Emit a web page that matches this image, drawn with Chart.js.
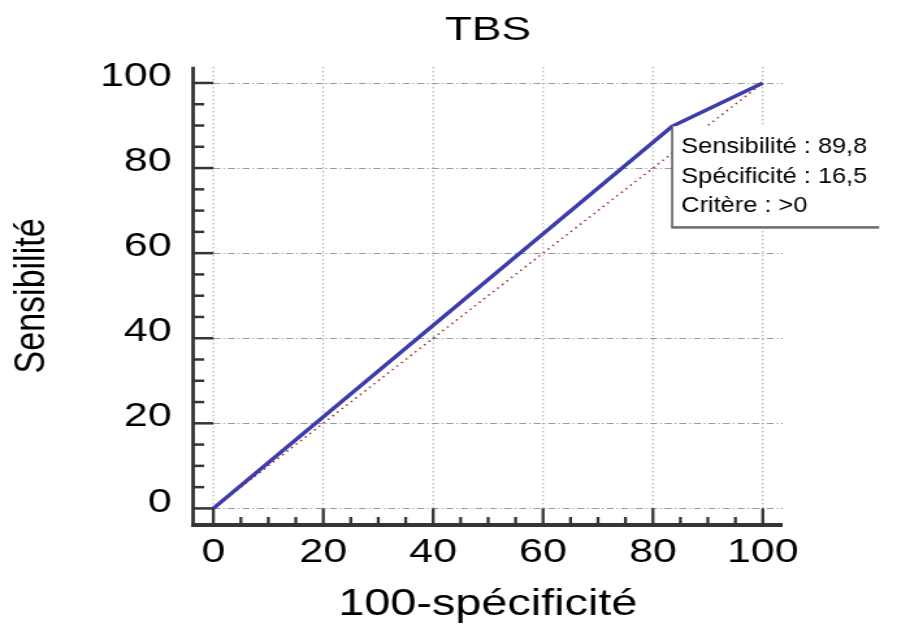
<!DOCTYPE html>
<html>
<head>
<meta charset="utf-8">
<title>TBS</title>
<script src="https://cdn.jsdelivr.net/npm/chart.js@4.4.1/dist/chart.umd.min.js"></script>
<style>
  html, body { margin: 0; padding: 0; background: #fff; overflow: hidden; }
  /* plot is drawn narrow then widened, so the lettering comes out broad */
  #wrap { width: 710px; height: 628px; transform: scaleX(1.3); transform-origin: 0 0; }
</style>
</head>
<body>
<div id="wrap"><canvas id="roc"></canvas></div>
<script>
// ROC curve: 100 - specificity vs sensitivity
const fpr = [0, 83.5, 100];
const sensitivity = [0, 89.8, 100];
// chance diagonal
const refX = [0, 100];
const refY = [0, 100];
const tickLabels = [0, 20, 40, 60, 80, 100];
const criterion = '>0';

const FONT = "'Liberation Sans', Arial, sans-serif";

function frFmt(v) {
  return v.toFixed(1).replace('.', ',');
}

// grid, axes with inner ticks, and the criterion box
const rocFrame = {
  id: 'rocFrame',
  beforeDatasetsDraw(chart) {
    const { ctx, chartArea: a, scales: { x, y } } = chart;
    ctx.save();
    ctx.strokeStyle = '#9a9a9a';
    ctx.lineWidth = 1;
    ctx.setLineDash([5.4, 2.3, 1.2, 2.3]);
    tickLabels.forEach(v => {
      const py = Math.round(y.getPixelForValue(v)) + 0.5;
      ctx.beginPath();
      ctx.moveTo(x.getPixelForValue(0), py);
      ctx.lineTo(a.right, py);
      ctx.stroke();
    });
    ctx.lineWidth = 0.9;
    ctx.setLineDash([1.5, 2.5]);
    tickLabels.forEach(v => {
      const px = x.getPixelForValue(v);
      ctx.beginPath();
      ctx.moveTo(px, y.getPixelForValue(0));
      ctx.lineTo(px, a.top);
      ctx.stroke();
    });
    ctx.restore();
  },
  afterDatasetsDraw(chart) {
    const { ctx, chartArea: a, scales: { x, y } } = chart;
    ctx.save();
    ctx.fillStyle = '#353535';
    // axis lines
    ctx.fillRect(a.left - 1.4, a.top, 2.8, a.bottom - a.top + 2);
    ctx.fillRect(a.left - 1.4, a.bottom - 2, a.right - a.left + 1.4, 4);
    // ticks every 5, major ones reach the zero line
    for (let v = 0; v <= 100; v += 5) {
      const major = tickLabels.includes(v);
      const py = y.getPixelForValue(v);
      const yLen = major ? x.getPixelForValue(0) - a.left : 8.5;
      ctx.fillRect(a.left, py - 1.25, yLen, 2.5);
      const px = x.getPixelForValue(v);
      const xLen = major ? a.bottom - y.getPixelForValue(0) : 8;
      ctx.fillRect(px - 1.15, a.bottom - xLen, 2.3, xLen);
    }

    // criterion box anchored at the cut-off point
    const bx = x.getPixelForValue(fpr[1]);
    const by = y.getPixelForValue(sensitivity[1]);
    const right = 677;
    const bottom = by + 101;
    ctx.fillStyle = '#fff';
    ctx.fillRect(bx, by, right - bx, bottom - by);
    ctx.fillStyle = '#555';
    ctx.fillRect(bx - 0.75, by, 1.5, bottom - by);
    ctx.fillStyle = '#6a6a6a';
    ctx.fillRect(bx - 0.75, bottom - 1.2, right - bx, 2.5);

    const lines = [
      'Sensibilité : ' + frFmt(sensitivity[1]),
      'Spécificité : ' + frFmt(100 - fpr[1]),
      'Critère : ' + criterion
    ];
    ctx.fillStyle = '#000';
    ctx.font = '19.5px ' + FONT;
    ctx.textAlign = 'left';
    ctx.textBaseline = 'alphabetic';
    lines.forEach((t, i) => {
      ctx.save();
      ctx.translate(bx + 7, by + 27 + i * 29.5);
      ctx.scale(1, 1.12);
      ctx.fillText(t, 0, 0);
      ctx.restore();
    });
    ctx.restore();
  }
};

const toPoints = (xs, ys) => xs.map((v, i) => ({ x: v, y: ys[i] }));

new Chart(document.getElementById('roc'), {
  type: 'line',
  data: {
    datasets: [
      {
        label: 'TBS',
        data: toPoints(fpr, sensitivity),
        borderColor: '#3c3caa',
        borderWidth: 3.5,
        pointRadius: 0,
        tension: 0
      },
      {
        label: 'diagonale',
        data: toPoints(refX, refY),
        borderColor: '#a02828',
        borderWidth: 1.5,
        borderDash: [1.5, 3.5],
        pointRadius: 0,
        tension: 0
      }
    ]
  },
  options: {
    responsive: true,
    maintainAspectRatio: false,
    animation: false,
    layout: { padding: { left: 4, right: 108, top: 7, bottom: 0 } },
    plugins: {
      legend: { display: false },
      tooltip: { enabled: false },
      title: {
        display: true,
        text: 'TBS',
        fullSize: false,
        color: '#000',
        font: { family: FONT, size: 34, weight: 'normal' },
        padding: { top: 3, bottom: 16 }
      }
    },
    scales: {
      x: {
        type: 'linear',
        min: -3.7,
        max: 103.6,
        afterBuildTicks: s => { s.ticks = tickLabels.map(v => ({ value: v })); },
        afterFit: s => { s.height = 103; },
        grid: { display: false, drawTicks: false },
        border: { display: false },
        ticks: {
          color: '#000',
          font: { family: FONT, size: 33 },
          padding: 8,
          maxRotation: 0,
          autoSkip: false
        },
        title: {
          display: true,
          text: '100-spécificité',
          color: '#000',
          font: { family: FONT, size: 36 },
          padding: { top: 0, bottom: 1.5 }
        }
      },
      y: {
        type: 'linear',
        min: -3.9,
        max: 103.8,
        afterBuildTicks: s => { s.ticks = tickLabels.map(v => ({ value: v })); },
        afterFit: s => { s.width = 144.5; },
        grid: { display: false, drawTicks: false },
        border: { display: false },
        ticks: {
          color: '#000',
          font: { family: FONT, size: 33 },
          padding: 16.5,
          labelOffset: -6,
          autoSkip: false
        },
        title: {
          display: true,
          text: 'Sensibilité',
          color: '#000',
          font: { family: FONT, size: 34 },
          padding: { top: 0, bottom: 0 }
        }
      }
    }
  },
  plugins: [rocFrame]
});
</script>
</body>
</html>
